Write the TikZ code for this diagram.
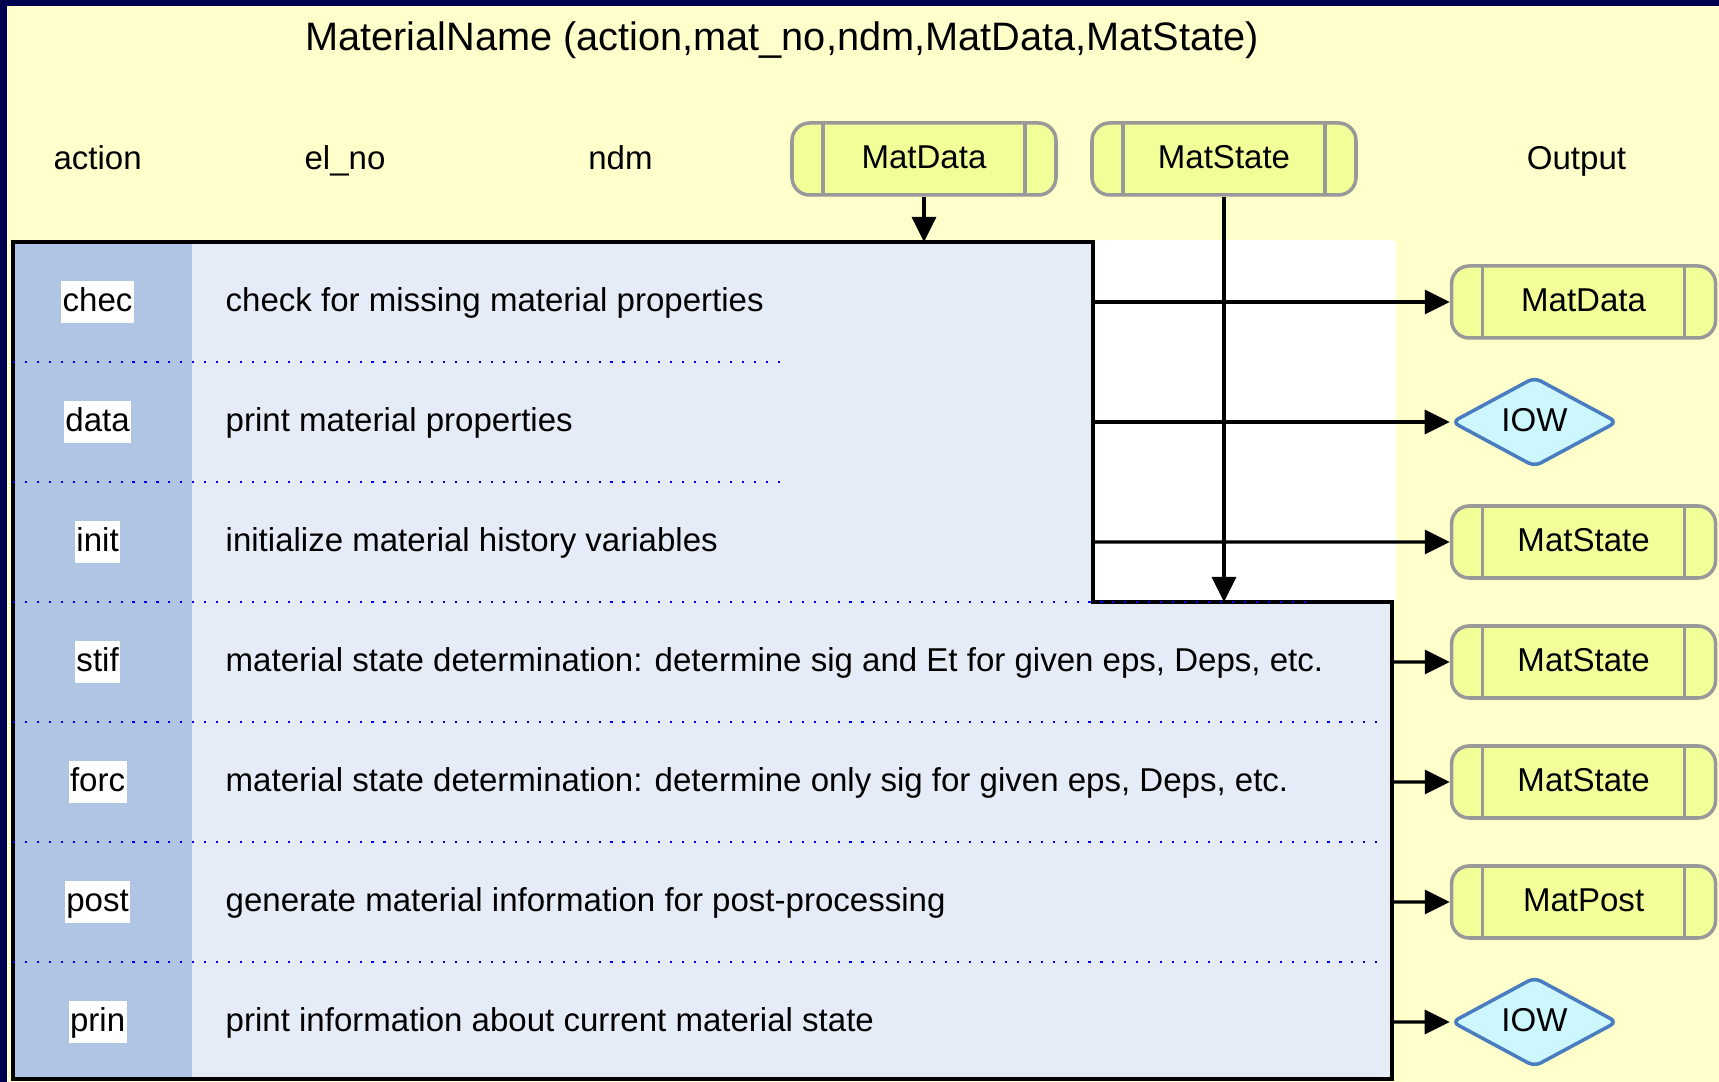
\documentclass[tikz,border=0pt]{standalone}
\usepackage{fontspec}
\setmainfont{Liberation Sans}
\usetikzlibrary{arrows.meta,shapes.geometric}

\begin{document}
\begin{tikzpicture}[
    txt/.style={font=\fontsize{9.4}{11}\selectfont, inner sep=0pt, text height=0.78em, text depth=0.24em},
    act/.style={txt, fill=white, inner xsep=0.4pt, inner ysep=0.9pt},
    desc/.style={txt, anchor=west},
    matbox/.style={txt, draw=c_grey, line width=1pt, fill=c_mat, rounded corners=5pt,
        minimum width=2.64cm, minimum height=0.72cm,
        path picture={
            \draw[c_grey, line width=1pt]
                ([xshift=0.31cm]path picture bounding box.south west) -- ([xshift=0.31cm]path picture bounding box.north west)
                ([xshift=-0.31cm]path picture bounding box.south east) -- ([xshift=-0.31cm]path picture bounding box.north east);
        }},
    iow/.style={txt, diamond, aspect=2, draw=c_iow, line width=1pt, fill=c_iowfill, rounded corners=2pt,
        minimum width=1.66cm, minimum height=0.90cm},
    flow/.style={line width=0.9pt, -{Triangle[length=0.25cm, width=0.24cm]}},
    sep/.style={c_dots, line width=0.6pt, dash pattern=on 0.6pt off 2.8pt}
]

    % Colores
    \definecolor{c_bg}{RGB}{255,255,204}
    \definecolor{c_frame}{RGB}{0,0,80}
    \definecolor{c_col}{RGB}{176,196,228}
    \definecolor{c_body}{RGB}{230,236,247}
    \definecolor{c_mat}{RGB}{242,255,153}
    \definecolor{c_grey}{RGB}{153,153,153}
    \definecolor{c_iow}{RGB}{74,124,192}
    \definecolor{c_iowfill}{RGB}{204,247,255}
    \definecolor{c_dots}{RGB}{0,0,255}

    % Fondo
    \useasboundingbox (0,0) rectangle (17.19,10.82);
    \fill[c_bg] (0,0) rectangle (17.19,10.82);
    \fill[c_frame] (0,10.76) rectangle (17.19,10.82);
    \fill[c_frame] (0,0) rectangle (0.073,10.82);
    \fill[white, rounded corners=1pt] (10.93,4.80) rectangle (13.96,8.42);

    % Titulo y argumentos
    \node[txt, font=\fontsize{11.3}{13}\selectfont] (title) at (7.82,10.41) {MaterialName (action,mat\_no,ndm,MatData,MatState)};
    \node[txt] (argAction) at (0.976,9.22) {action};
    \node[txt] (argEl) at (3.45,9.22) {el\_no};
    \node[txt] (argNdm) at (6.205,9.22) {ndm};
    \node[matbox] (inData) at (9.24,9.23) {MatData};
    \node[matbox] (inState) at (12.24,9.23) {MatState};
    \node[txt] (argOut) at (15.765,9.22) {Output};

    % Cuerpo de la tabla
    \fill[c_body] (0.13,8.40) -- (10.93,8.40) -- (10.93,4.80) -- (13.92,4.80) -- (13.92,0.03) -- (0.13,0.03) -- cycle;
    \fill[c_col] (0.13,0.03) rectangle (1.92,8.40);
    \draw[line width=0.9pt] (0.13,8.40) -- (10.93,8.40) -- (10.93,4.80) -- (13.92,4.80) -- (13.92,0.03) -- (0.13,0.03) -- cycle;

    % Separadores
    \draw[sep] (0.13,7.20) -- (7.84,7.20);
    \draw[sep] (0.13,6.00) -- (7.84,6.00);
    \draw[sep] (0.13,4.80) -- (13.10,4.80);
    \foreach \y in {3.60,2.40,1.20} {
        \draw[sep] (0.13,\y) -- (13.83,\y);
    }

    % Filas: accion y descripcion
    \foreach \tag/\what [count=\i] in {
        chec/check for missing material properties,
        data/print material properties,
        init/initialize material history variables,
        stif/{material state determination: determine sig and Et for given eps, Deps, etc.},
        forc/{material state determination: determine only sig for given eps, Deps, etc.},
        post/generate material information for post-processing,
        prin/print information about current material state} {
        \node[act] (A\i) at (0.976,{9.0-1.2*\i}) {\tag};
        \node[desc] (D\i) at (2.25,{9.0-1.2*\i}) {\what};
    }

    % Salidas
    \node[matbox] (o1) at (15.836,7.80) {MatData};
    \node[iow]    (o2) at (15.345,6.60) {IOW};
    \node[matbox] (o3) at (15.836,5.40) {MatState};
    \node[matbox] (o4) at (15.836,4.20) {MatState};
    \node[matbox] (o5) at (15.836,3.00) {MatState};
    \node[matbox] (o6) at (15.836,1.80) {MatPost};
    \node[iow]    (o7) at (15.345,0.60) {IOW};

    % Puntos de salida en el borde de la tabla
    \foreach \i in {1,2,3} {
        \coordinate (s\i) at (10.93,{9.0-1.2*\i});
    }
    \foreach \i in {4,...,7} {
        \coordinate (s\i) at (13.92,{9.0-1.2*\i});
    }
    \coordinate (dataIn) at (9.24,8.40);
    \coordinate (stateIn) at (12.24,4.80);

    % Conexiones
    \draw[flow] (inData.south) -- (dataIn);
    \foreach \i in {1,...,7} {
        \draw[flow] (s\i) -- (o\i.west);
    }
    \draw[flow] (inState.south) -- (stateIn);

\end{tikzpicture}
\end{document}
